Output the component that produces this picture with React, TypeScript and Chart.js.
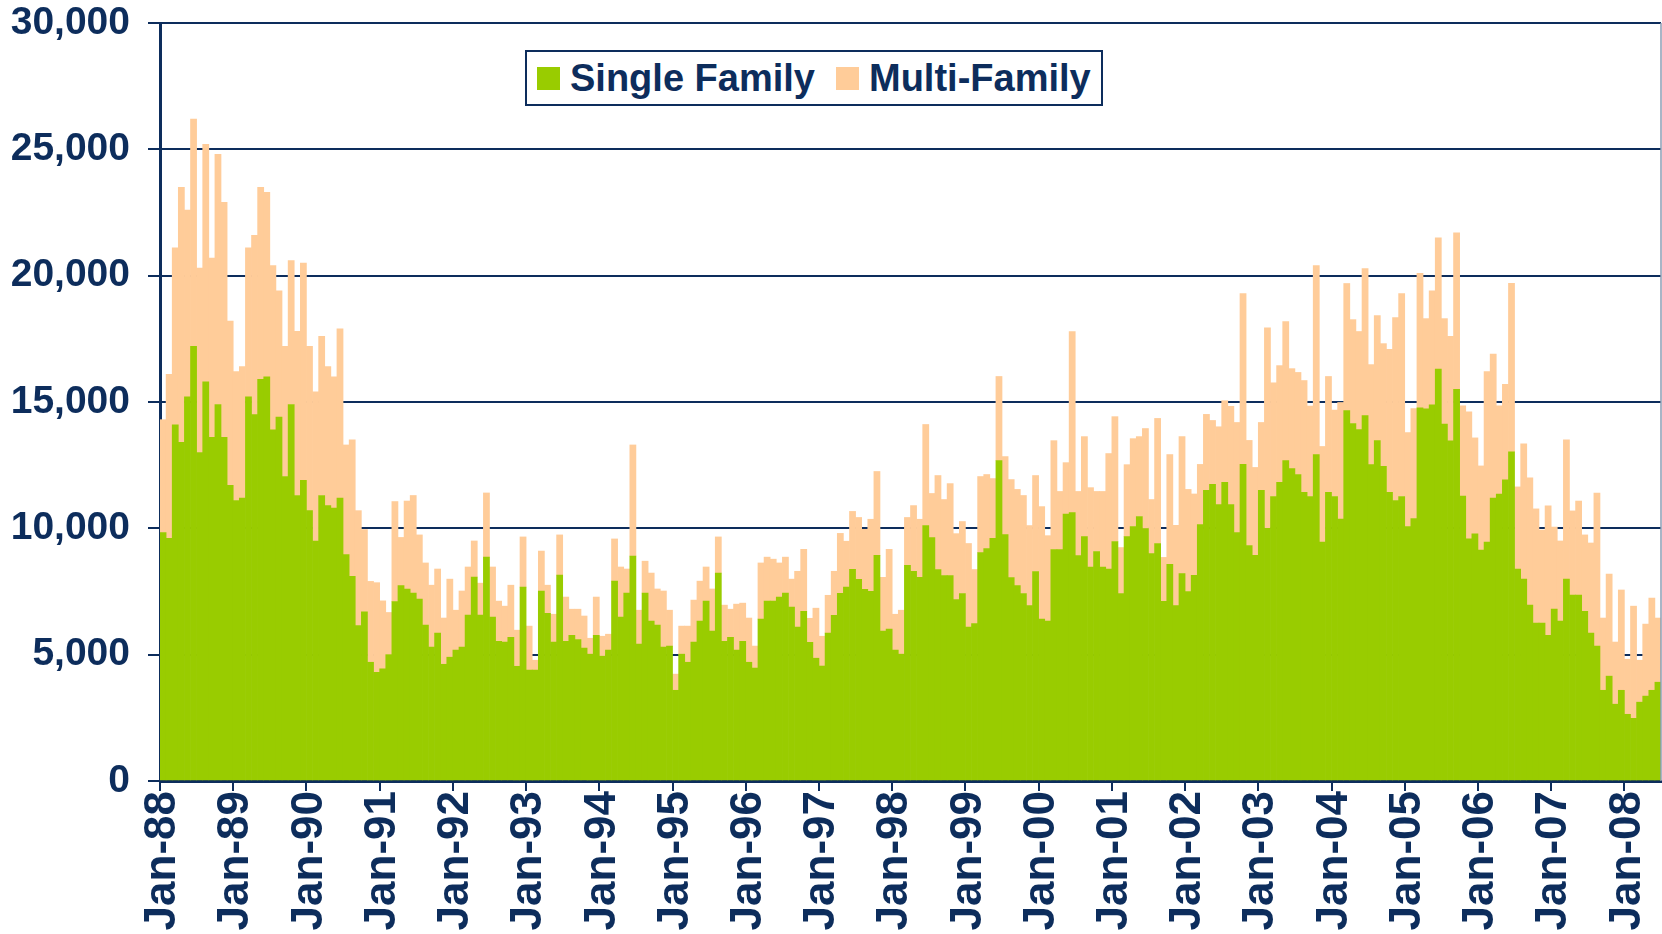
import React, { useEffect, useRef } from 'react';
import { Chart, registerables } from 'chart.js';

Chart.register(...registerables);

const MONTHS = ['Jan', 'Feb', 'Mar', 'Apr', 'May', 'Jun', 'Jul', 'Aug', 'Sep', 'Oct', 'Nov', 'Dec'];
const YEARS = ['88', '89', '90', '91', '92', '93', '94', '95', '96', '97', '98', '99', '00', '01', '02', '03', '04', '05', '06', '07', '08'];
const MONTHS_IN_LAST_YEAR = 6;

const categories: string[] = [];
YEARS.forEach((yr, yi) => {
  const n = yi === YEARS.length - 1 ? MONTHS_IN_LAST_YEAR : 12;
  for (let m = 0; m < n; m++) categories.push(`${MONTHS[m]}-${yr}`);
});

const singleFamily = [
  9830, 9600, 14100, 13400, 15200, 17200, 13000, 15800, 13600, 14900, 13600, 11700,
  11100, 11200, 15200, 14500, 15900, 16000, 13900, 14400, 12050, 14900, 11300, 11900,
  10700, 9500, 11300, 10900, 10800, 11200, 8960, 8100, 6150, 6700, 4700, 4300,
  4440, 5000, 7100, 7730, 7600, 7440, 7200, 6170, 5300, 5850, 4620, 4900,
  5180, 5300, 6570, 8070, 6570, 8860, 6490, 5530, 5500, 5690, 4540, 7670,
  4390, 4390, 7520, 6640, 5500, 8150, 5530, 5770, 5600, 5260, 5020, 5770,
  4940, 5180, 7910, 6490, 7440, 8900, 5420, 7440, 6330, 6170, 5300, 5340,
  3590, 5020, 4700, 5500, 6330, 7120, 5930, 8230, 5530, 5690, 5180, 5530,
  4700, 4470, 6410, 7120, 7120, 7280, 7440, 6880, 6090, 6720, 5490, 4860,
  4550, 5850, 6560, 7430, 7670, 8380, 7980, 7590, 7510, 8930, 5930, 6010,
  5180, 5020, 8540, 8300, 8060, 10110, 9630, 8370, 8130, 8130, 7180, 7420,
  6090, 6230, 9040, 9200, 9600, 12680, 9750, 8050, 7730, 7420, 6940, 8290,
  6410, 6330, 9160, 9160, 10560, 10620, 8920, 9670, 8470, 9080, 8470, 8390,
  9480, 7420, 9670, 10070, 10470, 9990, 9000, 9400, 7110, 8580, 6940, 8210,
  7500, 8140, 10150, 11500, 11740, 10940, 11820, 10940, 9830, 12530, 9320, 8930,
  11500, 10000, 11260, 11820, 12680, 12360, 12130, 11420, 11260, 12920, 9460, 11420,
  11260, 10370, 14660, 14150, 13910, 14460, 12520, 13470, 12450, 11420, 11100, 11260,
  10070, 10390, 14770, 14730, 14890, 16300, 14130, 13460, 15500, 11280, 9580, 9780,
  9140, 9460, 11200, 11360, 11920, 13030, 8390, 7990, 6960, 6250, 6250, 5770,
  6800, 6330, 7990, 7360, 7360, 6720, 5850, 5340, 3590, 4150, 3040, 3590,
  2640, 2480, 3120, 3360, 3590, 3910,
];

const multiFamily = [
  4470, 6500, 7000, 10100, 7400, 9000, 7300, 9400, 7100, 9900, 9300, 6500,
  5100, 5200, 5900, 7100, 7600, 7300, 6500, 5000, 5150, 5700, 6500, 8600,
  6500, 5900, 6300, 5500, 5200, 6700, 4340, 5400, 4550, 3250, 3200, 3550,
  2690, 1670, 3960, 1910, 3480, 3860, 2540, 2460, 2450, 2540, 1830, 3090,
  1580, 2220, 1900, 1430, 1260, 2540, 1980, 1590, 1420, 2060, 1430, 1990,
  1740, 390, 1580, 1110, 1100, 1590, 1750, 1030, 1200, 1270, 630, 1510,
  790, 630, 1670, 1980, 950, 4400, 1340, 1260, 1900, 1430, 2220, 1420,
  640, 1110, 1430, 1660, 1580, 1350, 1670, 1430, 1430, 1110, 1820, 1510,
  1750, 870, 2220, 1740, 1660, 1350, 1420, 1110, 2210, 2450, 950, 1980,
  1180, 1500, 1740, 2370, 1820, 2290, 2450, 2370, 2850, 3320, 2130, 3160,
  1420, 1740, 1890, 2600, 2300, 4000, 1750, 3720, 3010, 3640, 2610, 2850,
  3310, 2140, 3010, 2930, 2370, 3330, 3090, 3880, 3810, 3880, 3170, 3800,
  4450, 3380, 4310, 2300, 2040, 7170, 2540, 3960, 3140, 2380, 2990, 4570,
  4940, 1820, 2850, 3480, 3160, 3960, 2140, 4950, 1740, 4340, 3180, 5420,
  4040, 3220, 2380, 3010, 2530, 3080, 3230, 3890, 4360, 6760, 4160, 3480,
  2690, 7940, 4500, 4620, 5500, 3960, 4040, 4430, 3580, 7480, 3780, 4590,
  3420, 4610, 5030, 4110, 3880, 5820, 3960, 4950, 4860, 5660, 7240, 8030,
  3720, 4350, 5320, 3570, 4510, 5200, 4170, 4140, 6200, 3570, 5030, 3800,
  3330, 6740, 5700, 3490, 3780, 6670, 3250, 5350, 5040, 4520, 3680, 5120,
  3250, 3170, 5510, 3330, 3720, 3020, 3570, 6060, 2860, 4040, 2460, 3970,
  2180, 4440, 1660, 2850, 3650, 2540,
];

const Y_MAX = 30000;
const Y_STEP = 5000;

const NAVY = '#0d2d5c';
const GREEN = '#99cc00';
const PEACH = '#ffcc99';
const FONT = "'Liberation Sans', Arial, sans-serif";

const frameRight = {
  id: 'frameRight',
  afterDraw(chart: any) {
    const { ctx, chartArea } = chart;
    ctx.save();
    ctx.strokeStyle = '#8b9cb3';
    ctx.lineWidth = 1.5;
    ctx.beginPath();
    ctx.moveTo(chartArea.right, chartArea.top);
    ctx.lineTo(chartArea.right, chartArea.bottom);
    ctx.stroke();
    ctx.restore();
  },
};

export default function App() {
  const ref = useRef<HTMLCanvasElement>(null);

  useEffect(() => {
    document.body.style.margin = '0';
    document.body.style.overflow = 'hidden';
    const chart = new Chart(ref.current as HTMLCanvasElement, {
      type: 'bar',
      data: {
        labels: categories,
        datasets: [
          { label: 'Single Family', data: singleFamily, backgroundColor: GREEN, stack: 'permits' },
          { label: 'Multi-Family', data: multiFamily, backgroundColor: PEACH, stack: 'permits' },
        ],
      },
      options: {
        responsive: false,
        animation: false,
        devicePixelRatio: 1,
        layout: { padding: { top: 23, right: 1, left: 0, bottom: 0 } },
        datasets: { bar: { barPercentage: 1, categoryPercentage: 1, borderWidth: 0 } },
        plugins: { legend: { display: false }, tooltip: { enabled: false } },
        scales: {
          x: {
            stacked: true,
            offset: true,
            grid: {
              offset: true,
              drawOnChartArea: false,
              drawTicks: true,
              tickLength: 10,
              lineWidth: 2,
              color: (c: any) => (c.index % 12 === 0 ? NAVY : 'rgba(0,0,0,0)'),
            },
            border: { color: NAVY, width: 3 },
            ticks: {
              autoSkip: false,
              maxRotation: 90,
              minRotation: 90,
              padding: 0,
              color: NAVY,
              font: { family: FONT, size: 44, weight: 'bold' },
              callback: (_v: any, i: number) => (i % 12 === 0 ? categories[i] : ''),
            },
            afterFit: (s: any) => {
              s.height = 153;
              s.paddingLeft = 0;
              s.paddingRight = 0;
            },
          },
          y: {
            stacked: true,
            min: 0,
            max: Y_MAX,
            grid: { color: NAVY, lineWidth: 2, tickLength: 12 },
            border: { color: NAVY, width: 3 },
            ticks: {
              stepSize: Y_STEP,
              padding: 18,
              color: NAVY,
              font: { family: FONT, size: 39, weight: 'bold' },
              callback: (v: any) => Number(v).toLocaleString('en-US'),
            },
            afterFit: (s: any) => {
              s.width = 160;
              s.paddingTop = 0;
              s.paddingBottom = 0;
            },
          },
        },
      },
      plugins: [frameRight],
    });
    return () => chart.destroy();
  }, []);

  const legendText: React.CSSProperties = {
    position: 'absolute',
    top: 0,
    height: 52,
    lineHeight: '52px',
    fontFamily: FONT,
    fontWeight: 'bold',
    fontSize: 38,
    color: NAVY,
    whiteSpace: 'nowrap',
  };
  const swatch = (left: number, color: string): React.CSSProperties => ({
    position: 'absolute',
    left,
    top: 15,
    width: 23,
    height: 23,
    background: color,
  });

  return (
    <div style={{ position: 'absolute', left: 0, top: 0, width: 1662, height: 934, background: '#fff' }}>
      <canvas ref={ref} width={1662} height={934} style={{ display: 'block' }} />
      <div
        style={{
          position: 'absolute',
          left: 525,
          top: 50,
          width: 578,
          height: 56,
          boxSizing: 'border-box',
          border: `2px solid ${NAVY}`,
          background: '#fff',
        }}
      >
        <div style={swatch(10, GREEN)} />
        <div style={{ ...legendText, left: 43 }}>Single Family</div>
        <div style={swatch(309, PEACH)} />
        <div style={{ ...legendText, left: 342 }}>Multi-Family</div>
      </div>
    </div>
  );
}
